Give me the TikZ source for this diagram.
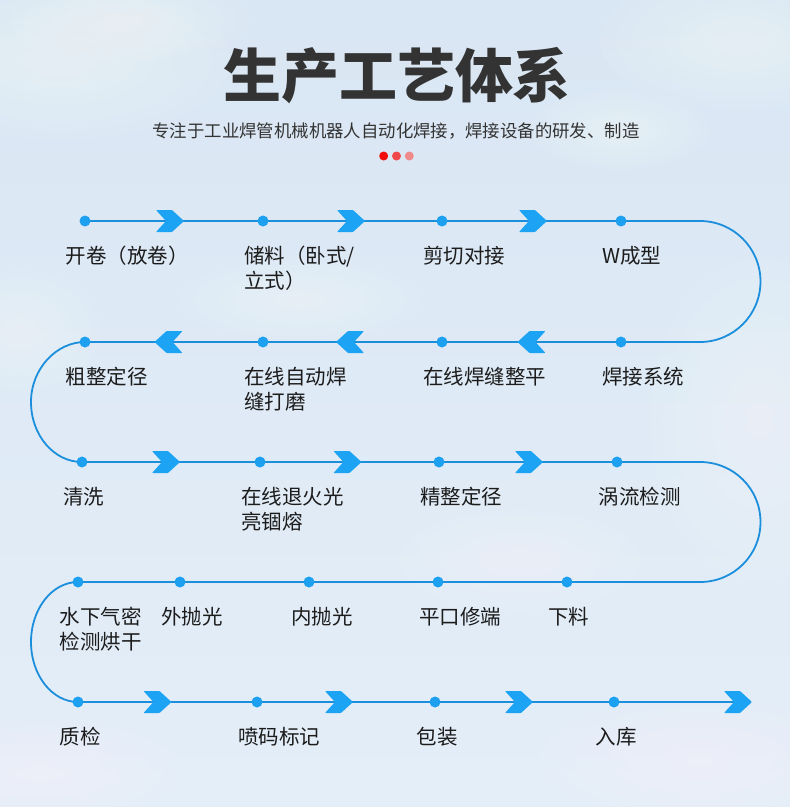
\documentclass[tikz,border=0pt]{standalone}
\usepackage{fontspec}
\setmainfont{Noto Sans CJK SC}
\usetikzlibrary{calc}
\definecolor{flowc}{HTML}{1B8EDC}
\definecolor{dotc}{HTML}{1EA0F0}
\definecolor{chevc}{HTML}{1CA3F3}
\definecolor{skytop}{HTML}{D9E6F3}
\definecolor{skybot}{HTML}{E4EEF8}
\definecolor{titc}{HTML}{333333}
\definecolor{labc}{HTML}{1C1C1C}
\definecolor{red1}{HTML}{F20D0D}
\definecolor{red2}{HTML}{F04848}
\definecolor{red3}{HTML}{EE8A8A}
\pgfdeclarelayer{sky}
\pgfdeclarelayer{lines}
\pgfsetlayers{sky,lines,main}
\begin{document}
\begin{tikzpicture}[x=1pt,y=-1pt,
  dotnode/.style={circle,fill=dotc,inner sep=0pt,minimum size=11pt},
  reddot/.style={circle,inner sep=0pt,minimum size=9pt},
  lab/.style={anchor=north west,inner sep=0pt,align=left,text=labc,font=\fontsize{20.5}{25}\selectfont},
  flowline/.style={draw=flowc,line width=1.8pt},
  cloud/.style={fill=white,opacity=0.055},
  chevR/.pic={\fill[chevc,rounded corners=0.8pt] (-14,-11) -- (2,-11) -- (14,0) -- (2,11) -- (-14,11) -- (-4,0) -- cycle;},
  chevL/.pic={\fill[chevc,rounded corners=0.8pt] (14,-11) -- (-2,-11) -- (-14,0) -- (-2,11) -- (14,11) -- (4,0) -- cycle;}
]
\useasboundingbox (0,0) rectangle (790,807);
\begin{pgfonlayer}{sky}
\fill[top color=skytop,bottom color=skybot] (0,0) rectangle (790,807);
\begin{scope}
\clip (0,0) rectangle (790,807);
\foreach \cx/\cy/\rx/\ry in {60/60/170/80, 130/20/120/40, 740/40/140/70, 760/420/110/160, 520/560/120/50, 700/760/160/60, 40/770/140/50, 300/300/120/40, 620/130/90/40, 20/330/80/60}{
  \foreach \k in {1,...,9}{
    \fill[cloud] (\cx,\cy) ellipse[x radius=\rx*\k/9, y radius=\ry*\k/9];
  }
}
\end{scope}
\end{pgfonlayer}

% title
\node[anchor=base,inner sep=0pt,text=titc,font=\bfseries\fontsize{58}{58}\selectfont] (title) at (397,97) {生产工艺体系};
\node[anchor=base,inner sep=0pt,text=titc,font=\fontsize{17.4}{20}\selectfont] (subtitle) at (396,137) {专注于工业焊管机械机器人自动化焊接，焊接设备的研发、制造};
\node[reddot,fill=red1] (r1) at (383.7,156) {};
\node[reddot,fill=red2] (r2) at (396.5,156) {};
\node[reddot,fill=red3] (r3) at (409.3,156) {};

% dots
\node[dotnode] (d11) at (85,221) {};
\node[dotnode] (d12) at (263,221) {};
\node[dotnode] (d13) at (442,221) {};
\node[dotnode] (d14) at (621,221) {};
\node[dotnode] (d21) at (85,342) {};
\node[dotnode] (d22) at (263,342) {};
\node[dotnode] (d23) at (442,342) {};
\node[dotnode] (d24) at (621,342) {};
\node[dotnode] (d31) at (82,462) {};
\node[dotnode] (d32) at (260,462) {};
\node[dotnode] (d33) at (439,462) {};
\node[dotnode] (d34) at (617,462) {};
\node[dotnode] (d41) at (78,582) {};
\node[dotnode] (d42) at (180,582) {};
\node[dotnode] (d43) at (309,582) {};
\node[dotnode] (d44) at (438,582) {};
\node[dotnode] (d45) at (567,582) {};
\node[dotnode] (d51) at (78,702) {};
\node[dotnode] (d52) at (257,702) {};
\node[dotnode] (d53) at (435,702) {};
\node[dotnode] (d54) at (614,702) {};
\coordinate (a1) at (700,221);
\coordinate (a2) at (700,342);
\coordinate (a3) at (700,462);
\coordinate (a4) at (700,582);
\coordinate (e5) at (745,702);

% flow line
\begin{pgfonlayer}{lines}
\draw[flowline] (d11.center) -- (d12.center) -- (d13.center) -- (d14.center) -- (a1)
  .. controls (733.4,221) and (760.5,248.1) .. (760.5,281.5)
  .. controls (760.5,314.9) and (733.4,342) .. (a2)
  -- (d24.center) -- (d23.center) -- (d22.center) -- (d21.center)
  .. controls (56.3,342) and (31,368.9) .. (31,402)
  .. controls (31,435.1) and (53.8,462) .. (d31.center)
  -- (d32.center) -- (d33.center) -- (d34.center) -- (a3)
  .. controls (733.4,462) and (760.5,488.6) .. (760.5,522)
  .. controls (760.5,555.4) and (733.4,582) .. (a4)
  -- (d45.center) -- (d44.center) -- (d43.center) -- (d42.center) -- (d41.center)
  .. controls (52,582) and (31,609) .. (31,642)
  .. controls (31,675) and (52,702) .. (d51.center)
  -- (d52.center) -- (d53.center) -- (d54.center) -- (e5);
\end{pgfonlayer}

% chevrons
\pic at (170,221) {chevR};
\pic at (351,221) {chevR};
\pic at (533,221) {chevR};
\pic at (168.5,342) {chevL};
\pic at (350,342) {chevL};
\pic at (531.5,342) {chevL};
\pic at (166,462) {chevR};
\pic at (347.5,462) {chevR};
\pic at (529,462) {chevR};
\pic at (157.5,702) {chevR};
\pic at (339,702) {chevR};
\pic at (519,702) {chevR};
\pic at (738,702) {chevR};

% labels
\node[lab] (t11) at (65.5,246) {开卷（放卷）};
\node[lab] (t12) at (244,246) {储料（卧式/\\立式）};
\node[lab] (t13) at (423,246) {剪切对接};
\node[lab] (t14) at (602,246) {W成型};
\node[lab] (t21) at (65.5,367) {粗整定径};
\node[lab] (t22) at (244,367) {在线自动焊\\缝打磨};
\node[lab] (t23) at (423,367) {在线焊缝整平};
\node[lab] (t24) at (602,367) {焊接系统};
\node[lab] (t31) at (63,487) {清洗};
\node[lab] (t32) at (241,487) {在线退火光\\亮锢熔};
\node[lab] (t33) at (420,487) {精整定径};
\node[lab] (t34) at (598.5,487) {涡流检测};
\node[lab] (t41) at (59.5,607) {水下气密\\检测烘干};
\node[lab] (t42) at (161,607) {外抛光};
\node[lab] (t43) at (291,607) {内抛光};
\node[lab] (t44) at (419,607) {平口修端};
\node[lab] (t45) at (548,607) {下料};
\node[lab] (t51) at (59.5,727) {质检};
\node[lab] (t52) at (238,727) {喷码标记};
\node[lab] (t53) at (416.5,727) {包装};
\node[lab] (t54) at (595.5,727) {入库};
\end{tikzpicture}
\end{document}
